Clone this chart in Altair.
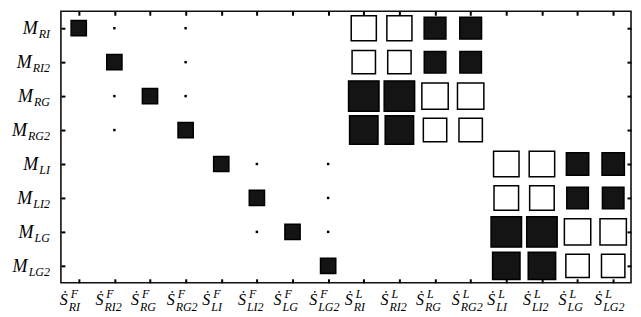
import altair as alt
import pandas as pd

# ---- labels ----
row_subs = ["RI", "RI2", "RG", "RG2", "LI", "LI2", "LG", "LG2"]
col_sups = ["F"] * 8 + ["L"] * 8
col_subs = row_subs * 2

# ---- weights (positive = black filled, negative = white outlined) ----
w_M_RI  = [0.25, 0.001, 0, 0.001, 0, 0, 0, 0, -0.68, -0.68, 0.51, 0.51, 0, 0, 0, 0]
w_M_RI2 = [0, 0.25, 0, 0.001, 0, 0, 0, 0, -0.59, -0.59, 0.50, 0.50, 0, 0, 0, 0]
w_M_RG  = [0, 0.001, 0.25, 0.001, 0, 0, 0, 0, 1.00, 1.00, -0.75, -0.75, 0, 0, 0, 0]
w_M_RG2 = [0, 0.001, 0, 0.25, 0, 0, 0, 0, 0.87, 0.87, -0.59, -0.59, 0, 0, 0, 0]
w_M_LI  = [0, 0, 0, 0, 0.25, 0.001, 0, 0.001, 0, 0, 0, 0, -0.70, -0.70, 0.54, 0.54]
w_M_LI2 = [0, 0, 0, 0, 0, 0.25, 0, 0.001, 0, 0, 0, 0, -0.65, -0.65, 0.50, 0.50]
w_M_LG  = [0, 0, 0, 0, 0, 0.001, 0.25, 0.001, 0, 0, 0, 0, 1.00, 1.00, -0.75, -0.75]
w_M_LG2 = [0, 0, 0, 0, 0, 0, 0, 0.25, 0, 0, 0, 0, 0.81, 0.81, -0.59, -0.59]
weights = [w_M_RI, w_M_RI2, w_M_RG, w_M_RG2, w_M_LI, w_M_LI2, w_M_LG, w_M_LG2]

row_keys = ["M_" + s for s in row_subs]
col_keys = [f"S{p}_{s}" for p, s in zip(col_sups, col_subs)]

recs = []
for rk, wr in zip(row_keys, weights):
    for ck, v in zip(col_keys, wr):
        if v != 0:
            recs.append({"row": rk, "col": ck, "mag": abs(v), "sign": "pos" if v > 0 else "neg"})
cells = pd.DataFrame(recs)

W, H = 571, 272
FONT = "Liberation Serif"

xsc = alt.Scale(domain=col_keys, padding=0.5)
ysc = alt.Scale(domain=row_keys, padding=0.5)

tick_kw = dict(ticks=True, tickSize=4, tickWidth=2, tickColor="black", domain=False,
               labels=False, grid=False, title=None, offset=-4)

squares = alt.Chart(cells).mark_square(stroke="black", strokeWidth=1.5, opacity=1).encode(
    x=alt.X("col:N", scale=xsc, axis=alt.Axis(orient="bottom", **tick_kw)),
    y=alt.Y("row:N", scale=ysc, axis=alt.Axis(orient="left", **tick_kw)),
    size=alt.Size("mag:Q", scale=alt.Scale(domain=[0, 1], range=[0, 930]), legend=None),
    fill=alt.Fill("sign:N", scale=alt.Scale(domain=["pos", "neg"], range=["#141414", "#ffffff"]), legend=None),
)

ghost = alt.Chart(cells).mark_point(opacity=0).encode(
    x=alt.X("col:N", scale=xsc, axis=alt.Axis(orient="top", **tick_kw)),
    y=alt.Y("row:N", scale=ysc, axis=alt.Axis(orient="right", **tick_kw)),
)

# x labels: S-dot with superscript and subscript
labx = pd.DataFrame({"col": col_keys, "sup": col_sups, "sub": col_subs})
xbase = alt.Chart(labx).mark_text(text="Ṡ", align="left", baseline="alphabetic", dx=-19,
                                  font=FONT, fontStyle="italic", fontSize=16, color="black").encode(
    x=alt.X("col:N", scale=xsc, axis=None), y=alt.value(H + 22))
xsup = alt.Chart(labx).mark_text(align="left", baseline="alphabetic", dx=-8,
                                 font=FONT, fontStyle="italic", fontSize=12, color="black").encode(
    x=alt.X("col:N", scale=xsc, axis=None), y=alt.value(H + 15), text="sup:N")
xsub = alt.Chart(labx).mark_text(align="left", baseline="alphabetic", dx=-10,
                                 font=FONT, fontStyle="italic", fontSize=12, color="black").encode(
    x=alt.X("col:N", scale=xsc, axis=None), y=alt.value(H + 28), text="sub:N")

# y labels: M with subscript, right aligned
cw = {"R": 7.3, "I": 4.0, "G": 8.7, "L": 6.7, "2": 6.0}
laby = pd.DataFrame({"row": row_keys, "sub": row_subs,
                     "subw": [sum(cw[c] for c in s) for s in row_subs]})
ym = alt.Chart(laby).transform_calculate(mx="-12 - datum.subw").mark_text(
    text="M", align="right", baseline="alphabetic", dy=6,
    font=FONT, fontStyle="italic", fontSize=18, color="black").encode(
    y=alt.Y("row:N", scale=ysc, axis=None), x=alt.X("mx:Q", scale=None, axis=None))
ysub = alt.Chart(laby).mark_text(align="right", baseline="alphabetic", dy=10,
                                 font=FONT, fontStyle="italic", fontSize=12, color="black").encode(
    y=alt.Y("row:N", scale=ysc, axis=None), x=alt.value(-11), text="sub:N")

chart = alt.layer(squares, ghost, xbase, xsup, xsub, ym, ysub).resolve_axis(
    x="independent", y="independent"
).properties(
    width=W, height=H, autosize="none",
    padding={"left": 53, "top": 3, "right": 2, "bottom": 31},
).configure_view(stroke="#111111", strokeWidth=1.6)

chart.save("out.html", embed_options={"renderer": "svg", "actions": False})
